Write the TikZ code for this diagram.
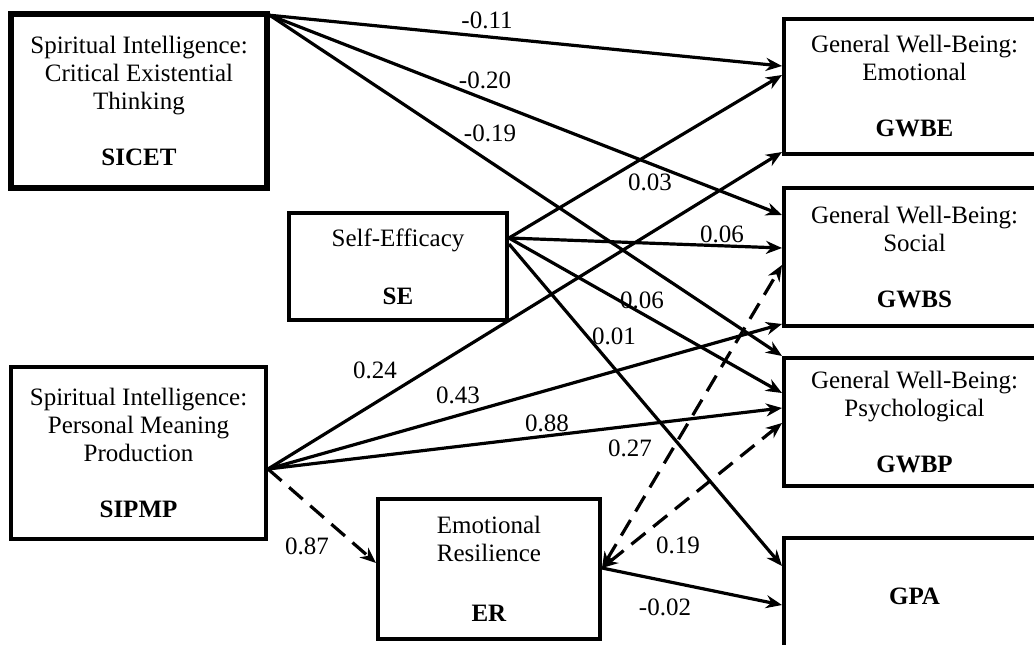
\documentclass[tikz,border=0pt]{standalone}
\usepackage{fontspec}
\setmainfont{Liberation Serif}
\usetikzlibrary{arrows.meta}
\newcommand\pathfont{\fontsize{25}{28}\selectfont}
\tikzset{
  var/.style={draw, line width=4pt, align=center, font=\pathfont, inner sep=0pt},
  eff/.style={line width=3.2pt, -{Stealth[length=16pt,width=13pt]}},
  covar/.style={eff, {Stealth[length=16pt,width=13pt]}-{Stealth[length=16pt,width=13pt]}, dash pattern=on 18pt off 10pt},
  coef/.style={font=\pathfont, inner sep=1pt}
}
\begin{document}
\begin{tikzpicture}[x=1pt,y=-1pt]
  \useasboundingbox (0,0) rectangle (1034,645);
  \node[var, line width=5.5pt, minimum width=256, minimum height=174] (sicet) at (139,101)
    {Spiritual Intelligence:\\ Critical Existential\\ Thinking\\[28pt] \textbf{SICET}};
  \node[var, minimum width=218, minimum height=107] (se) at (398,266.5)
    {Self-Efficacy\\[30pt] \textbf{SE}};
  \node[var, minimum width=255, minimum height=172] (sipmp) at (138.5,453)
    {Spiritual Intelligence:\\ Personal Meaning\\ Production\\[28pt] \textbf{SIPMP}};
  \node[var, minimum width=222, minimum height=140] (er) at (489,569)
    {Emotional\\ Resilience\\[32pt] \textbf{ER}};
  \node[var, minimum width=261, minimum height=135] (gwbe) at (914.5,86.5)
    {General Well-Being:\\ Emotional\\[28pt] \textbf{GWBE}};
  \node[var, minimum width=261, minimum height=138] (gwbs) at (914.5,257)
    {General Well-Being:\\ Social\\[28pt] \textbf{GWBS}};
  \node[var, minimum width=261, minimum height=128] (gwbp) at (914.5,422)
    {General Well-Being:\\ Psychological\\[28pt] \textbf{GWBP}};
  \node[var, minimum width=261, minimum height=117] (gpa) at (914.5,596.5)
    {\textbf{GPA}};

  \draw[eff] ([yshift=-4pt]sicet.north east) -- ([yshift=-49pt]gwbe.north west);
  \draw[eff] ([yshift=-4pt]sicet.north east) -- ([yshift=-29pt]gwbs.north west);
  \draw[eff] ([yshift=-4pt]sicet.north east) -- (gwbp.north west);

  \draw[eff] ([yshift=-27pt]se.north east) -- ([yshift=-58pt]gwbe.north west);
  \draw[eff] ([yshift=-27pt]se.north east) -- ([yshift=-62pt]gwbs.north west);
  \draw[eff] ([yshift=-27pt]se.north east) -- ([yshift=-37pt]gwbp.north west);
  \draw[eff] ([yshift=-33pt]se.north east) -- ([yshift=-30pt]gpa.north west);

  \draw[eff] ([yshift=-104pt]sipmp.north east) -- ([yshift=4pt]gwbe.south west);
  \draw[eff] ([yshift=-104pt]sipmp.north east) -- ([yshift=4pt]gwbs.south west);
  \draw[eff] ([yshift=-104pt]sipmp.north east) -- ([yshift=-52pt]gwbp.north west);
  \draw[eff, dash pattern=on 18pt off 10pt] ([yshift=-104pt]sipmp.north east) -- ([yshift=-66pt]er.north west);

  \draw[eff] ([yshift=-71pt]er.north east) -- ([yshift=-69pt]gpa.north west);
  \draw[covar] ([yshift=-71pt]er.north east) -- ([yshift=-79pt]gwbs.north west);
  \draw[covar] ([yshift=-71pt]er.north east) -- ([yshift=-67pt]gwbp.north west);

  \node[coef] (c1) at (487,20) {-0.11};
  \node[coef] (c2) at (485,80) {-0.20};
  \node[coef] (c3) at (490,133) {-0.19};
  \node[coef] (c4) at (650,182) {0.03};
  \node[coef] (c5) at (722,234) {0.06};
  \node[coef] (c6) at (642,300) {0.06};
  \node[coef] (c7) at (614,336) {0.01};
  \node[coef] (c8) at (375,370) {0.24};
  \node[coef] (c9) at (458,395) {0.43};
  \node[coef] (c10) at (547,423) {0.88};
  \node[coef] (c11) at (630,448) {0.27};
  \node[coef] (c12) at (678,545) {0.19};
  \node[coef] (c13) at (307,546) {0.87};
  \node[coef] (c14) at (665,607) {-0.02};
\end{tikzpicture}
\end{document}
